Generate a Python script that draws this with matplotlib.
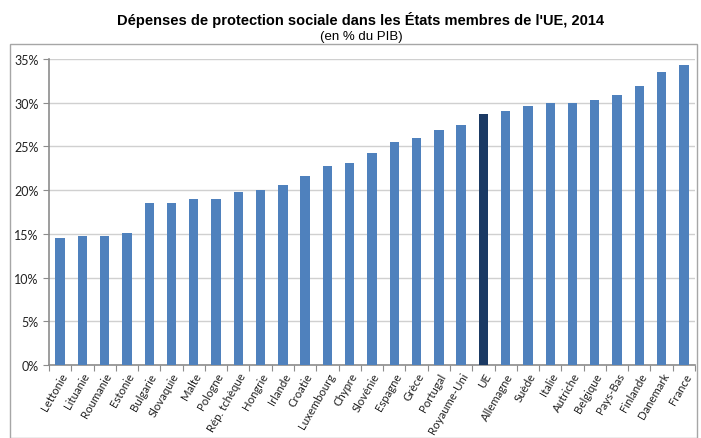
import matplotlib.pyplot as plt
import matplotlib.ticker as ticker
from matplotlib.patches import Rectangle

# data (% of GDP, 2014)
countries = ["Lettonie", "Lituanie", "Roumanie", "Estonie", "Bulgarie", "Slovaquie",
             "Malte", "Pologne", "Rép. tchèque", "Hongrie", "Irlande", "Croatie",
             "Luxembourg", "Chypre", "Slovénie", "Espagne", "Grèce", "Portugal",
             "Royaume-Uni", "UE", "Allemagne", "Suède", "Italie", "Autriche",
             "Belgique", "Pays-Bas", "Finlande", "Danemark", "France"]
values = [14.5, 14.7, 14.8, 15.1, 18.5, 18.5, 19.0, 19.0, 19.8, 20.0, 20.6, 21.6,
          22.8, 23.1, 24.2, 25.5, 26.0, 26.9, 27.4, 28.7, 29.1, 29.6, 30.0, 30.0,
          30.3, 30.9, 31.9, 33.5, 34.3]
highlight = "UE"

blue = "#4F81BD"
navy = "#1B3A64"
colors = [navy if c == highlight else blue for c in countries]

fig = plt.figure(figsize=(7.01, 4.39), dpi=100)
fig.patches.append(Rectangle((10 / 701, 0.0), 687 / 701, 1 - 45 / 439,
                             transform=fig.transFigure, fill=False,
                             edgecolor="#A6A6A6", linewidth=1.0))

ax = fig.add_axes([49 / 701, 1 - 366 / 439, 646 / 701, 306 / 439])
x = range(len(countries))
ax.bar(x, values, width=0.42, color=colors, zorder=3)

ax.set_xlim(-0.5, len(countries) - 0.5)
ax.set_ylim(0, 35)
ax.yaxis.set_major_locator(ticker.MultipleLocator(5))
ax.yaxis.set_major_formatter(ticker.FuncFormatter(lambda v, p: f"{int(v)}%"))
ax.grid(axis="y", color="#D0D0D0", linewidth=1.0, zorder=0)

for s in ["top", "right"]:
    ax.spines[s].set_visible(False)
for s in ["left", "bottom"]:
    ax.spines[s].set_color("#8C8C8C")
    ax.spines[s].set_linewidth(1.2)

# tick marks sit between categories, labels under the bars
ax.set_xticks([i + 0.5 for i in range(-1, len(countries))], minor=False)
ax.set_xticklabels([])
ax.set_xticks(list(x), minor=True)
ax.set_xticklabels(countries, minor=True, rotation=60, ha="right",
                   rotation_mode="anchor", fontsize=8.2, family="Lato", color="#222222")
ax.tick_params(axis="x", which="major", length=4, color="#8C8C8C")
ax.tick_params(axis="x", which="minor", length=0, pad=4)
ax.tick_params(axis="y", length=4, color="#8C8C8C", labelsize=9, labelcolor="#222222")
for lbl in ax.get_yticklabels():
    lbl.set_family("Lato")

fig.text(0.515, 1 - 20 / 439, "Dépenses de protection sociale dans les États membres de l'UE, 2014",
         ha="center", va="center", fontsize=10.5, fontweight="bold", family="Liberation Sans")
fig.text(0.515, 1 - 37 / 439, "(en % du PIB)", ha="center", va="center",
         fontsize=9.5, family="Liberation Sans")

fig.savefig("out.png", dpi=100)
